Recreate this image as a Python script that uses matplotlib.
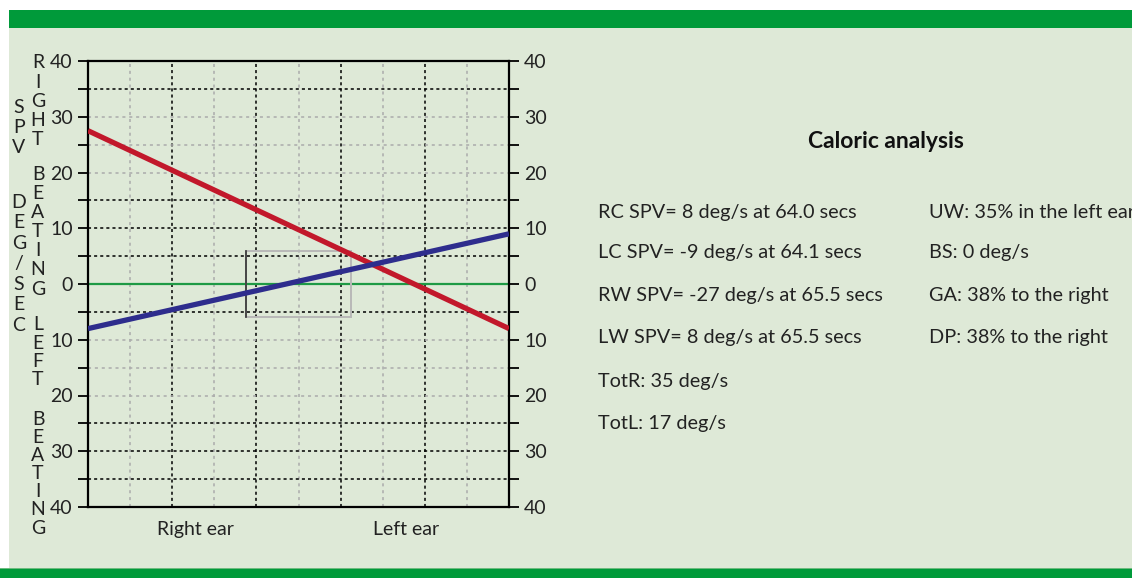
import matplotlib
matplotlib.use("Agg")
import matplotlib.pyplot as plt
from matplotlib.patches import Rectangle

plt.rcParams['font.family'] = ['Lato', 'DejaVu Sans']

# ---- data ----
x_ends = [0, 10]
red_values = [27.5, -8.0]    # right-warm / right-cool line
blue_values = [-8.0, 9.0]    # left-warm / left-cool line
box_x = [3.75, 6.25]
box_y = [-6.0, 6.0]
ytick_vals = [40, 30, 20, 10, 0, -10, -20, -30, -40]
ytick_labels = ['40', '30', '20', '10', '0', '10', '20', '30', '40']
black_h = [35, 15, 10, 5, -5, -25, -30, -35]
grey_h = [30, 25, 20, -10, -15, -20]
black_v = [2, 4, 6, 8]
grey_v = [1, 3, 5, 7, 9]
ear_pos = [2.55, 7.55]
ear_labels = ['Right ear', 'Left ear']
title = 'Caloric analysis'
col1 = ['RC SPV= 8 deg/s at 64.0 secs', 'LC SPV= -9 deg/s at 64.1 secs',
        'RW SPV= -27 deg/s at 65.5 secs', 'LW SPV= 8 deg/s at 65.5 secs',
        'TotR: 35 deg/s', 'TotL: 17 deg/s']
col2 = ['UW: 35% in the left ear', 'BS: 0 deg/s', 'GA: 38% to the right',
        'DP: 38% to the right']

W, H = 1132, 578
fig = plt.figure(figsize=(W / 100, H / 100), dpi=100)
fig.patch.set_facecolor('white')

def fx(px):
    return px / W

def fy(py):
    return 1 - py / H

# panel background and bars
bg = '#DEE9D7'
green_bar = '#009A3A'
fig.patches.append(Rectangle((fx(9), fy(578)), 1, (578 - 10) / H,
                             transform=fig.transFigure, facecolor=bg, edgecolor='none', zorder=-3))
fig.patches.append(Rectangle((fx(9), fy(28)), 1, 18 / H,
                             transform=fig.transFigure, facecolor=green_bar, edgecolor='none', zorder=-2))
fig.patches.append(Rectangle((0, 0), 1, 9 / H,
                             transform=fig.transFigure, facecolor=green_bar, edgecolor='none', zorder=-2))
fig.patches.append(Rectangle((0, 9 / H), 1, 1.5 / H,
                             transform=fig.transFigure, facecolor='#6DBB7E', edgecolor='none', zorder=-2))

ax = fig.add_axes([fx(88), fy(507), (509 - 88) / W, (507 - 61) / H])
ax.set_zorder(2)
ax.set_facecolor('none')
ax.set_xlim(0, 10)
ax.set_ylim(-40, 40)

# grid lines
for v in grey_v:
    ax.axvline(v, color='#ABABAB', lw=1.1, ls=(0, (2, 2.5)), zorder=1)
for v in black_v:
    ax.axvline(v, color='black', lw=1.1, ls=(0, (2, 2)), zorder=1)
for h in grey_h:
    ax.axhline(h, color='#ABABAB', lw=1.1, ls=(0, (2, 2.5)), zorder=1)
for h in black_h:
    ax.axhline(h, color='black', lw=1.1, ls=(0, (2, 2)), zorder=1)
ax.axhline(0, color='#1E9A45', lw=1.6, zorder=2)

# normal box
ax.add_patch(Rectangle((box_x[0], box_y[0]), box_x[1] - box_x[0], box_y[1] - box_y[0],
                       facecolor='none', edgecolor='#B8B8B8', lw=1.4, zorder=3))
ax.plot([box_x[0], box_x[0]], [box_y[0], box_y[1]], color='#333333', lw=1.2, zorder=3)

# lines
ax.plot(x_ends, red_values, color='#C2182B', lw=3.8, solid_capstyle='butt', zorder=4)
ax.plot(x_ends, blue_values, color='#2E2D8D', lw=3.8, solid_capstyle='butt', zorder=5)

# spines / ticks
for s in ax.spines.values():
    s.set_linewidth(1.6)
    s.set_color('black')
minor = list(range(-35, 40, 10))
ax.set_yticks(ytick_vals)
ax.set_yticklabels(ytick_labels)
ax.set_yticks(minor, minor=True)
ax.tick_params(axis='y', which='both', direction='out', length=7, width=1.3,
               left=True, right=True, labelleft=True, labelright=True,
               labelsize=14, pad=4, colors='black', labelcolor='#222222')
ax.set_xticks(ear_pos)
ax.set_xticklabels(ear_labels)
ax.tick_params(axis='x', length=0, labelsize=14, pad=10, labelcolor='#222222')

# vertical stacked letters
def stack(text, x, y0, step, gap):
    y = y0
    for ch in text:
        if ch == ' ':
            y += gap
            continue
        fig.text(fx(x), fy(y), ch, ha='center', va='center', fontsize=14, color='#222222')
        y += step

stack('RIGHT BEATING', 38, 63, 19.1, 16)
stack('LEFT BEATING', 38, 325, 18.1, 22)
stack('SPV DEG/SEC', 19, 107, 20.5, 34)

# analysis text
fig.text(fx(886), fy(142), title, ha='center', va='center', fontsize=16.5,
         fontweight='bold', color='#111111')
ys = [212, 253, 296, 338, 381, 423]
for t, y in zip(col1, ys):
    fig.text(fx(598), fy(y), t, ha='left', va='center', fontsize=14.3, color='#222222')
for t, y in zip(col2, ys):
    fig.text(fx(929), fy(y), t, ha='left', va='center', fontsize=14.3, color='#222222')

fig.savefig('out.png', dpi=100, facecolor=fig.get_facecolor())
